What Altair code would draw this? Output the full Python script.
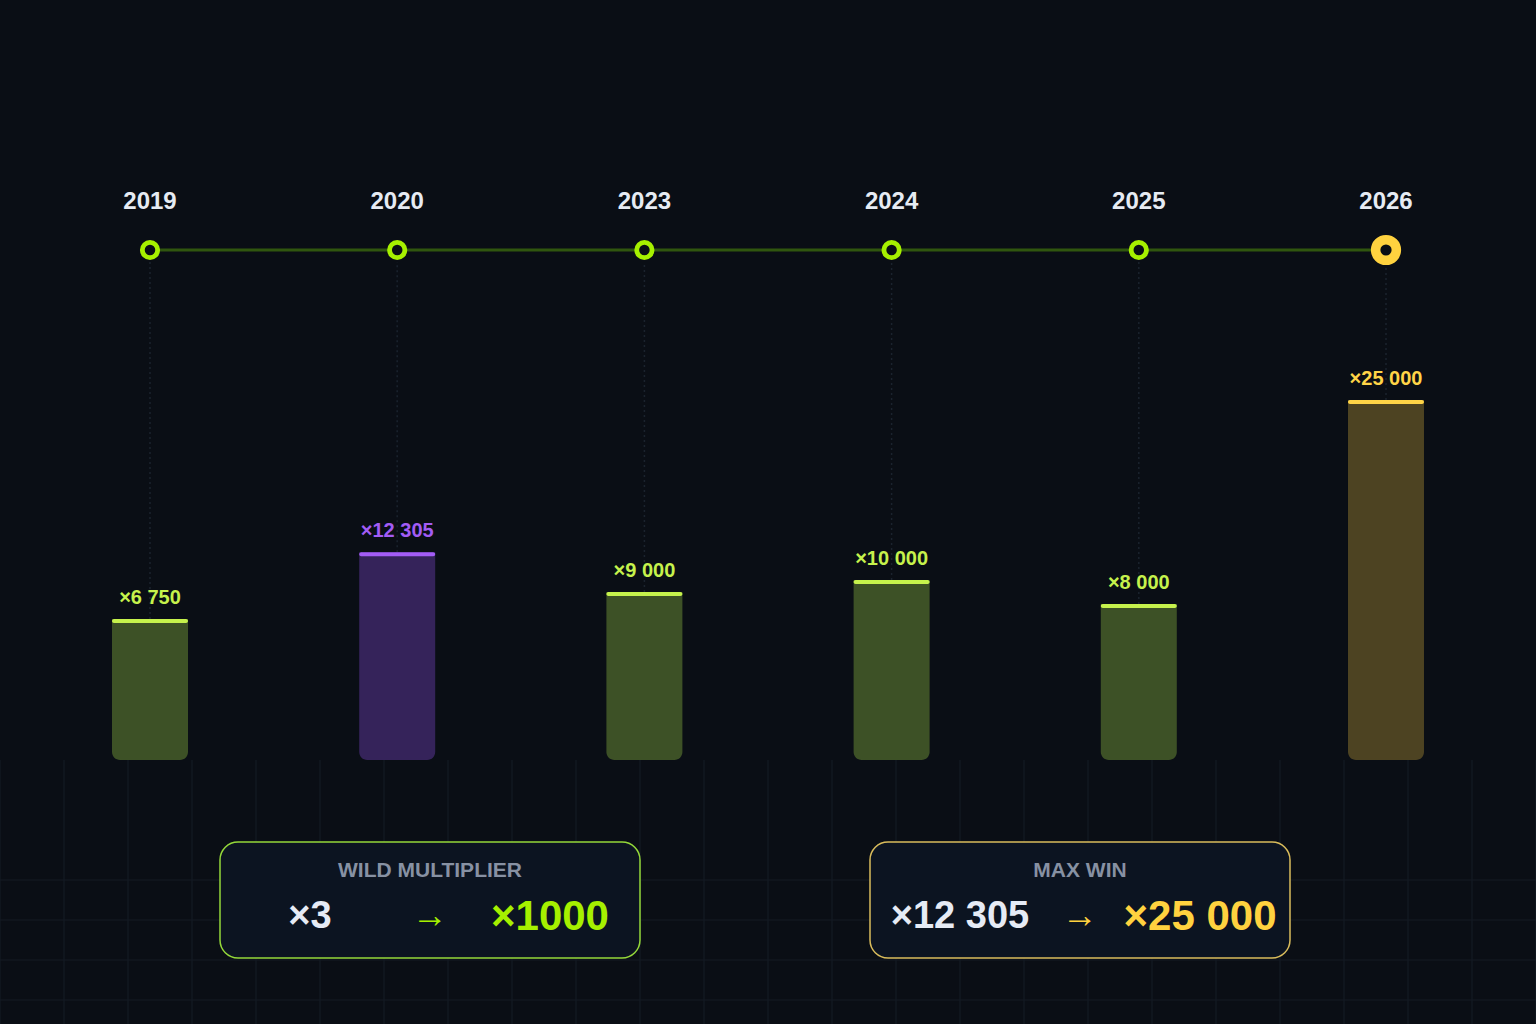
import altair as alt
import pandas as pd

# --- data -------------------------------------------------------------
years = ["2019", "2020", "2023", "2024", "2025", "2026"]
max_win = [6750, 12305, 9000, 10000, 8000, 25000]
tier = ["standard", "record", "standard", "standard", "standard", "target"]

box_titles = ["WILD MULTIPLIER", "MAX WIN"]
box_from = ["×3", "×12 305"]
box_to = ["×1000", "×25 000"]

# --- styling ----------------------------------------------------------
BG = "#0a0e15"
FONT = "Liberation Sans, Arial, sans-serif"
LIME = "#a6f000"
GOLD = "#ffd23f"
TIERS = ["standard", "record", "target"]
BAR_FILLS = ["#3d5126", "#35235a", "#4d4322"]
ACCENTS = ["#c6f24c", "#a35cf5", "#ffd447"]
FLOOR = -5000  # scale floor so the smallest bar keeps a visible body

df = pd.DataFrame({
    "i": list(range(len(years))),
    "year": years,
    "value": max_win,
    "tier": tier,
    "label": ["×" + f"{v:,}".replace(",", " ") for v in max_win],
})

X_SCALE = alt.Scale(domain=[-0.6068, 5.6068], nice=False, zero=False, padding=0)
X = alt.X("i:Q", scale=X_SCALE, axis=None)
Y = alt.Y("value:Q", scale=alt.Scale(domain=[FLOOR, 25000], range=[760, 400], nice=False, zero=False, padding=0), axis=None)
accent = alt.Color("tier:N", scale=alt.Scale(domain=TIERS, range=ACCENTS), legend=None)

base = alt.Chart(df)

# faint background grid under the bars
grid_v = alt.Chart(pd.DataFrame({"px": list(range(0, 1537, 64))})).mark_rule(
    color="#151c26", strokeWidth=1
).encode(x=alt.X("px:Q", scale=None), y=alt.value(760), y2=alt.value(1024))

grid_h = alt.Chart(pd.DataFrame({"py": [880, 920, 960, 1000]})).mark_rule(
    color="#141b24", strokeWidth=1
).encode(y=alt.Y("py:Q", scale=None), x=alt.value(0), x2=alt.value(1536))

# dotted guides from each milestone down to its bar
guides = base.mark_rule(color="#1b232e", strokeWidth=1.5, strokeDash=[2, 3]).encode(
    x=X, y=Y, y2=alt.value(262)
)

# timeline
track = base.mark_rule(color="#30560f", strokeWidth=3).encode(
    x=alt.X("min(i):Q", scale=X_SCALE, axis=None),
    x2=alt.X2("max(i):Q"),
    y=alt.value(250),
)

is_target = "datum.tier == 'target'"
nodes = base.mark_point(shape="circle", filled=True, fill=BG, opacity=1).encode(
    x=X,
    y=alt.value(250),
    stroke=alt.condition(is_target, alt.value(GOLD), alt.value(LIME)),
    size=alt.condition(is_target, alt.value(430), alt.value(235)),
    strokeWidth=alt.condition(is_target, alt.value(9.5), alt.value(4.8)),
)

year_labels = base.mark_text(
    font=FONT, fontSize=24, fontWeight="bold", color="#e6ebf3", baseline="middle"
).encode(x=X, y=alt.value(202), text="year:N")

# bars
bars = base.mark_bar(width=76, cornerRadiusBottomLeft=8, cornerRadiusBottomRight=8).encode(
    x=X,
    y=Y,
    y2=alt.datum(FLOOR),
    fill=alt.Fill("tier:N", scale=alt.Scale(domain=TIERS, range=BAR_FILLS), legend=None),
)

caps = base.mark_tick(orient="horizontal", thickness=4, size=76, cornerRadius=2, yOffset=2, opacity=1).encode(
    x=X, y=Y, color=accent
)

value_labels = base.mark_text(
    font=FONT, fontSize=20, fontWeight="bold", dy=-21, baseline="middle"
).encode(x=X, y=Y, text="label:N", color=accent)

# summary boxes
box_df = pd.DataFrame({"title": box_titles, "src": box_from, "dst": box_to})
box_layers = []
BOX_LEFT = [220, 870]
BOX_W = 420
BOX_STROKE = ["#94d83a", "#d9bc5c"]
BOX_ACCENT = [LIME, GOLD]
for k in range(len(box_titles)):
    left = BOX_LEFT[k]
    row = alt.Chart(box_df).transform_filter(alt.datum.title == box_titles[k])
    box_layers += [
        row.mark_rect(cornerRadius=18, fill="#0c1421", stroke=BOX_STROKE[k], strokeWidth=1.5).encode(
            x=alt.value(left), x2=alt.value(left + BOX_W), y=alt.value(842), y2=alt.value(958)
        ),
        row.mark_text(font=FONT, fontSize=21, fontWeight="bold", color="#8791a3", baseline="middle").encode(
            x=alt.value(left + BOX_W / 2), y=alt.value(871), text="title:N"
        ),
        row.mark_text(font=FONT, fontSize=38, fontWeight="bold", color="#e6ebf5", baseline="middle").encode(
            x=alt.value(left + 90), y=alt.value(917), text="src:N"
        ),
        row.mark_text(font=FONT, fontSize=36, color=BOX_ACCENT[k], baseline="middle").encode(
            x=alt.value(left + BOX_W / 2), y=alt.value(916), text=alt.value("→")
        ),
        row.mark_text(font=FONT, fontSize=42, fontWeight="bold", color=BOX_ACCENT[k], baseline="middle").encode(
            x=alt.value(left + BOX_W - 90), y=alt.value(917), text="dst:N"
        ),
    ]

chart = alt.layer(
    grid_v, grid_h, guides, track, nodes, year_labels, bars, caps, value_labels, *box_layers
).resolve_scale(x="independent", y="independent").properties(
    width=1536, height=1024, background=BG, padding=0, autosize="none"
).configure_view(stroke=None)

chart.save("out.html", embed_options={"renderer": "svg", "actions": False})
